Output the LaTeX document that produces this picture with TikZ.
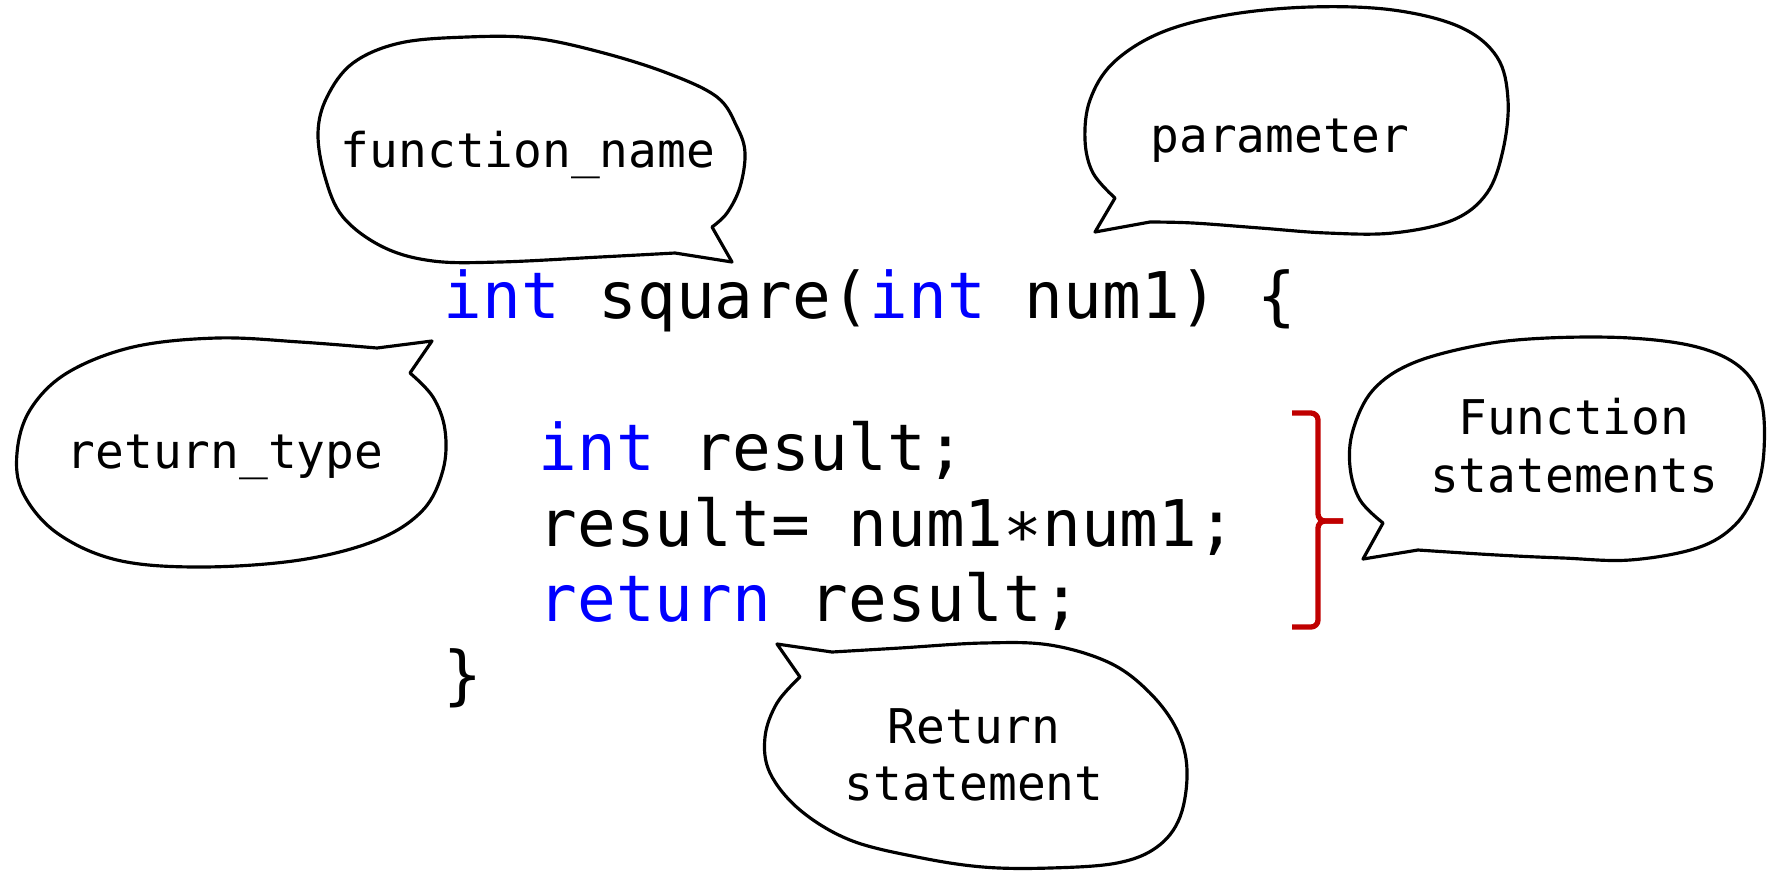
\documentclass[tikz,border=0pt]{standalone}
\usepackage{fontspec}
\setmonofont{DejaVu Sans Mono}
\definecolor{keyblue}{RGB}{0,0,255}
\definecolor{bracketred}{RGB}{192,0,0}
\def\kw#1{\textcolor{keyblue}{#1}}
\def\us{\symbol{"5F}}

\begin{document}
\begin{tikzpicture}[x=0.01cm, y=-0.01cm,
		code/.style={anchor=base west, inner sep=0pt, font=\fontsize{18.3pt}{21pt}\selectfont\ttfamily},
		bubbletext/.style={anchor=base, inner sep=0pt, font=\fontsize{13.6pt}{16pt}\selectfont\ttfamily},
		bubble/.style={line width=0.9pt, line join=round, fill=white},
		bracket/.style={line width=1.5pt, color=bracketred, rounded corners=2pt}]
			%%%%% START %%%%%
			
			\useasboundingbox (0, 0) rectangle (1767, 872);
			
			% code
			\node[code] (sig) at (443, 318) {\kw{int} square(\kw{int} num1) \{};
			\node[code] (decl) at (538, 470) {\kw{int} result;};
			\node[code] (assign) at (538, 546) {result= num1\symbol{"2217}num1;};
			\node[code] (ret) at (538, 621) {\kw{return} result;};
			\node[code] (close) at (443, 697) {\}};
			
			% function_name
			\draw[bubble] plot[smooth, tension=0.6] coordinates {(712, 227) (727, 213) (740, 187) (745, 153) (737, 127) (717, 97) (667, 73) (600, 52) (533, 38) (467, 37) (400, 43) (353, 63) (327, 97) (318, 133) (325, 177) (343, 217) (383, 247) (433, 261) (500, 262) (600, 257) (675, 253)} -- (732, 262) -- cycle;
			\node[bubbletext] (fname) at (528, 167) {function\us name};
			
			% parameter
			\draw[bubble] plot[smooth, tension=0.6] coordinates {(1115, 198) (1093, 173) (1085, 140) (1090, 100) (1113, 63) (1160, 33) (1227, 15) (1310, 7) (1393, 10) (1460, 27) (1497, 57) (1508, 100) (1503, 150) (1487, 193) (1453, 220) (1393, 233) (1327, 233) (1260, 228) (1193, 223) (1150, 222)} -- (1095, 232) -- cycle;
			\node[bubbletext] (param) at (1280, 152) {parameter};
			
			% return_type
			\draw[bubble] plot[smooth, tension=0.6] coordinates {(410, 373) (433, 397) (445, 430) (443, 470) (423, 510) (377, 540) (300, 560) (200, 567) (117, 560) (57, 533) (23, 493) (17, 453) (30, 410) (67, 373) (133, 347) (217, 338) (300, 342) (377, 348)} -- (432, 341) -- cycle;
			\node[bubbletext] (rtype) at (225, 468) {return\us type};
			
			% Function statements
			\draw[bubble] plot[smooth, tension=0.6] coordinates {(1383, 523) (1360, 500) (1350, 467) (1353, 430) (1373, 390) (1413, 363) (1480, 345) (1547, 338) (1630, 338) (1697, 347) (1740, 367) (1761, 400) (1764, 450) (1756, 490) (1735, 525) (1697, 548) (1630, 560) (1563, 558) (1497, 555) (1418, 550)} -- (1363, 559) -- cycle;
			\node[bubbletext] (stmtsA) at (1574, 434) {Function};
			\node[bubbletext] (stmtsB) at (1574, 492) {statements};
			
			% Return statement
			\draw[bubble] plot[smooth, tension=0.6] coordinates {(832, 652) (900, 648) (983, 643) (1050, 645) (1110, 663) (1150, 693) (1177, 730) (1187, 770) (1180, 817) (1157, 847) (1117, 863) (1050, 868) (983, 867) (917, 857) (850, 840) (800, 810) (770, 773) (765, 737) (777, 703) (800, 677)} -- (777, 644) -- cycle;
			\node[bubbletext] (retA) at (974, 743) {Return};
			\node[bubbletext] (retB) at (974, 800) {statement};
			
			% bracket
			\coordinate (brtop) at (1292, 413);
			\coordinate (brmid) at (1318, 521);
			\coordinate (brtip) at (1343, 521);
			\coordinate (brbot) at (1292, 627);
			\draw[bracket] (brtop) -| (brmid) -- (brtip);
			\draw[bracket] (brtip) -- (brmid) |- (brbot);
			
			%%%%% END %%%%%
\end{tikzpicture}
\end{document}
